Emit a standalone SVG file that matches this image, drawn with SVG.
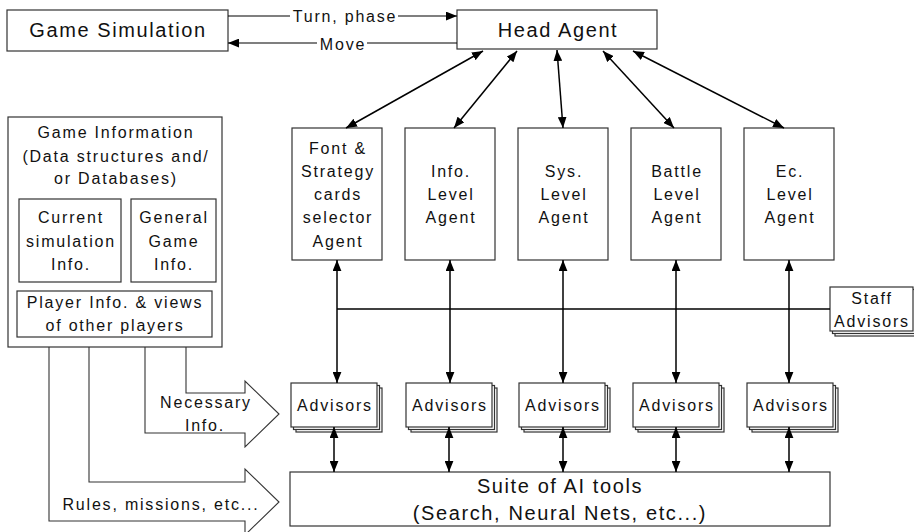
<svg xmlns="http://www.w3.org/2000/svg" width="914" height="532" viewBox="0 0 914 532">
<style>
  text { font-family: "Liberation Sans", Arial, sans-serif; fill: #111; text-anchor: middle; }
  .t16 { font-size: 16px; letter-spacing: 1.8px; }
  .t20 { font-size: 20px; letter-spacing: 1.6px; }
  .box { fill: #fff; stroke: #333; stroke-width: 1.2; }
  .ln { fill: none; stroke: #000; stroke-width: 1.5; }
  .blk { fill: none; stroke: #333; stroke-width: 1.1; }
</style>
<defs>
  <marker id="ah" viewBox="0 0 10 8" refX="10" refY="4" markerWidth="11" markerHeight="9" markerUnits="userSpaceOnUse" orient="auto-start-reverse">
    <path d="M0,0 L10,4 L0,8 z" fill="#000"/>
  </marker>
</defs>
<rect width="914" height="532" fill="#fff"/>

<g id="game-simulation">
  <rect class="box" x="7" y="10" width="221" height="41"/>
  <text class="t20" x="118" y="37">Game Simulation</text>
</g>
<g id="head-agent">
  <rect class="box" x="457" y="10" width="200" height="39"/>
  <text class="t20" x="558" y="37">Head Agent</text>
</g>

<g id="agent-font">
  <rect class="box" x="292" y="128" width="90" height="132"/>
  <text class="t16" x="338" y="154">Font &amp;</text>
  <text class="t16" x="338" y="177">Strategy</text>
  <text class="t16" x="338" y="200">cards</text>
  <text class="t16" x="338" y="223">selector</text>
  <text class="t16" x="338" y="247">Agent</text>
</g>
<g id="agent-info">
  <rect class="box" x="405" y="128" width="90" height="132"/>
  <text class="t16" x="451" y="177">Info.</text>
  <text class="t16" x="451" y="200">Level</text>
  <text class="t16" x="451" y="223">Agent</text>
</g>
<g id="agent-sys">
  <rect class="box" x="518" y="128" width="90" height="132"/>
  <text class="t16" x="564" y="177">Sys.</text>
  <text class="t16" x="564" y="200">Level</text>
  <text class="t16" x="564" y="223">Agent</text>
</g>
<g id="agent-battle">
  <rect class="box" x="631" y="128" width="90" height="132"/>
  <text class="t16" x="677" y="177">Battle</text>
  <text class="t16" x="677" y="200">Level</text>
  <text class="t16" x="677" y="223">Agent</text>
</g>
<g id="agent-ec">
  <rect class="box" x="744" y="128" width="90" height="132"/>
  <text class="t16" x="790" y="177">Ec.</text>
  <text class="t16" x="790" y="200">Level</text>
  <text class="t16" x="790" y="223">Agent</text>
</g>

<g id="game-information">
  <rect class="box" x="8" y="117" width="214" height="230"/>
  <text class="t16" x="116" y="138">Game Information</text>
  <text class="t16" x="116" y="162">(Data structures and/</text>
  <text class="t16" x="116" y="184">or Databases)</text>
  <g id="current-sim">
    <rect class="box" x="19" y="199" width="102" height="83"/>
    <text class="t16" x="71" y="223">Current</text>
    <text class="t16" x="71" y="247">simulation</text>
    <text class="t16" x="71" y="270">Info.</text>
  </g>
  <g id="general-game">
    <rect class="box" x="131" y="199" width="85" height="83"/>
    <text class="t16" x="174" y="223">General</text>
    <text class="t16" x="174" y="247">Game</text>
    <text class="t16" x="174" y="270">Info.</text>
  </g>
  <g id="player-info">
    <rect class="box" x="17" y="291" width="195" height="46"/>
    <text class="t16" x="115" y="308">Player Info. &amp; views</text>
    <text class="t16" x="115" y="331">of other players</text>
  </g>
</g>

<g id="staff-advisors">
  <rect class="box" x="835" y="292" width="83" height="44"/>
  <rect class="box" x="832.5" y="289.5" width="83" height="44"/>
  <rect class="box" x="830" y="287" width="83" height="44"/>
  <text class="t16" x="872" y="304">Staff</text>
  <text class="t16" x="872" y="327">Advisors</text>
</g>

<g id="advisors-1">
  <rect class="box" x="296" y="388" width="86" height="44"/>
  <rect class="box" x="293.5" y="385.5" width="86" height="44"/>
  <rect class="box" x="291" y="383" width="86" height="44"/>
  <text class="t16" x="335" y="411">Advisors</text>
</g>
<g id="advisors-2">
  <rect class="box" x="411" y="388" width="86" height="44"/>
  <rect class="box" x="408.5" y="385.5" width="86" height="44"/>
  <rect class="box" x="406" y="383" width="86" height="44"/>
  <text class="t16" x="450" y="411">Advisors</text>
</g>
<g id="advisors-3">
  <rect class="box" x="524" y="388" width="86" height="44"/>
  <rect class="box" x="521.5" y="385.5" width="86" height="44"/>
  <rect class="box" x="519" y="383" width="86" height="44"/>
  <text class="t16" x="563" y="411">Advisors</text>
</g>
<g id="advisors-4">
  <rect class="box" x="638" y="388" width="86" height="44"/>
  <rect class="box" x="635.5" y="385.5" width="86" height="44"/>
  <rect class="box" x="633" y="383" width="86" height="44"/>
  <text class="t16" x="677" y="411">Advisors</text>
</g>
<g id="advisors-5">
  <rect class="box" x="752" y="388" width="86" height="44"/>
  <rect class="box" x="749.5" y="385.5" width="86" height="44"/>
  <rect class="box" x="747" y="383" width="86" height="44"/>
  <text class="t16" x="791" y="411">Advisors</text>
</g>

<g id="suite-ai">
  <rect class="box" x="290" y="472" width="540" height="54"/>
  <text class="t20" x="560" y="493">Suite of AI tools</text>
  <text class="t20" x="560" y="520">(Search, Neural Nets, etc...)</text>
</g>

<g id="connectors">
  <!-- Game Simulation <-> Head Agent -->
  <line class="ln" x1="228" y1="16" x2="290" y2="16" style="stroke-width:1.2"/>
  <line class="ln" x1="398" y1="16" x2="457" y2="16" style="stroke-width:1.2" marker-end="url(#ah)"/>
  <text class="t16" x="345" y="22">Turn, phase</text>
  <line class="ln" x1="317" y1="43" x2="228" y2="43" style="stroke-width:1.2" marker-end="url(#ah)"/>
  <line class="ln" x1="367" y1="43" x2="457" y2="43" style="stroke-width:1.2"/>
  <text class="t16" x="343" y="50">Move</text>

  <!-- Head Agent <-> agents -->
  <line class="ln" x1="483" y1="51" x2="346" y2="128" marker-start="url(#ah)" marker-end="url(#ah)"/>
  <line class="ln" x1="517" y1="51" x2="454" y2="128" marker-start="url(#ah)" marker-end="url(#ah)"/>
  <line class="ln" x1="557" y1="50" x2="563" y2="128" marker-start="url(#ah)" marker-end="url(#ah)"/>
  <line class="ln" x1="603" y1="51" x2="674" y2="128" marker-start="url(#ah)" marker-end="url(#ah)"/>
  <line class="ln" x1="633" y1="51" x2="784" y2="128" marker-start="url(#ah)" marker-end="url(#ah)"/>

  <!-- agents <-> advisors -->
  <line class="ln" x1="337" y1="260" x2="337" y2="383" marker-start="url(#ah)" marker-end="url(#ah)"/>
  <line class="ln" x1="450" y1="260" x2="450" y2="383" marker-start="url(#ah)" marker-end="url(#ah)"/>
  <line class="ln" x1="563" y1="260" x2="563" y2="383" marker-start="url(#ah)" marker-end="url(#ah)"/>
  <line class="ln" x1="676" y1="260" x2="676" y2="383" marker-start="url(#ah)" marker-end="url(#ah)"/>
  <line class="ln" x1="789" y1="260" x2="789" y2="383" marker-start="url(#ah)" marker-end="url(#ah)"/>

  <!-- staff advisors bus -->
  <line class="ln" x1="337" y1="309" x2="830" y2="309"/>

  <!-- advisors <-> suite -->
  <line class="ln" x1="334" y1="427" x2="334" y2="472" marker-start="url(#ah)" marker-end="url(#ah)"/>
  <line class="ln" x1="449" y1="427" x2="449" y2="472" marker-start="url(#ah)" marker-end="url(#ah)"/>
  <line class="ln" x1="563" y1="427" x2="563" y2="472" marker-start="url(#ah)" marker-end="url(#ah)"/>
  <line class="ln" x1="676" y1="427" x2="676" y2="472" marker-start="url(#ah)" marker-end="url(#ah)"/>
  <line class="ln" x1="789" y1="427" x2="789" y2="472" marker-start="url(#ah)" marker-end="url(#ah)"/>

  <!-- block arrows from Game Information -->
  <path class="blk" d="M186,347 V393 H245 V381 L279,414 L245,447 V433 H145 V347"/>
  <path class="blk" d="M89,347 V482 H245 V469 L279,502 L245,535 V521 H49 V347"/>
  <text class="t16" x="206" y="408">Necessary</text>
  <text class="t16" x="205" y="431">Info.</text>
  <text class="t16" x="161" y="510">Rules, missions, etc...</text>
</g>
</svg>
